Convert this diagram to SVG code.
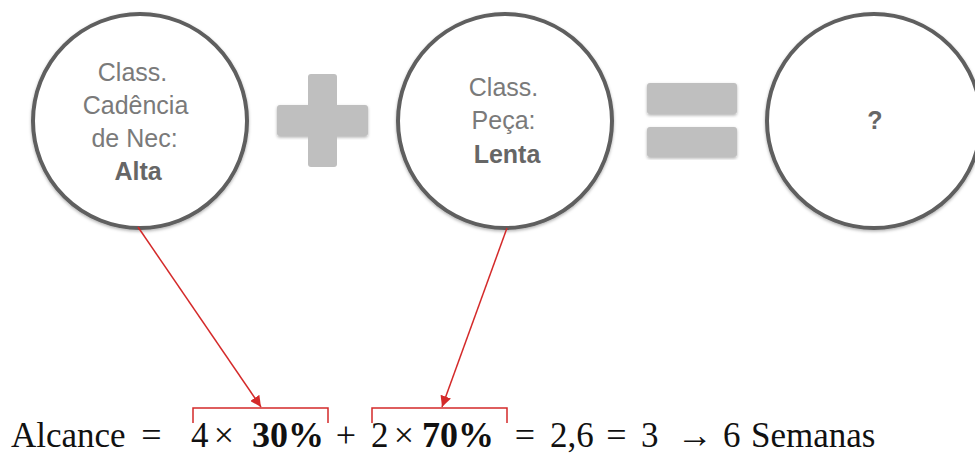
<svg xmlns="http://www.w3.org/2000/svg" width="975" height="454" viewBox="0 0 975 454">
  <defs>
    <filter id="sh" x="-10%" y="-10%" width="120%" height="120%">
      <feDropShadow dx="0" dy="1.5" stdDeviation="1.5" flood-color="#000" flood-opacity="0.3"/>
    </filter>
    <marker id="ah" viewBox="0 0 10 10" refX="10" refY="5" markerWidth="11" markerHeight="11" markerUnits="userSpaceOnUse" orient="auto">
      <path d="M0,0 L10,5 L0,10 z" fill="#d42a2a"/>
    </marker>
    <style>
      .node { fill: #ffffff; stroke: #5f5f5f; stroke-width: 4; }
      .sym { fill: #bfbfbf; }
      .lbl { font-family: "Liberation Sans", Arial, sans-serif; font-size: 25px; fill: #7a7a7a; text-anchor: middle; }
      .b { font-weight: bold; fill: #666666; }
      .conn { stroke: #d42a2a; stroke-width: 1.5; fill: none; }
      .eq { font-family: "Liberation Serif", "Times New Roman", serif; font-size: 35px; fill: #111111; }
      .bold { font-weight: bold; font-size: 36px; }
      .op { font-family: "Liberation Serif", "Times New Roman", serif; font-size: 36px; fill: #111111; text-anchor: middle; }
    </style>
  </defs>

  <g id="node-cadencia">
    <circle class="node" cx="140" cy="121" r="107" filter="url(#sh)"/>
    <text class="lbl">
      <tspan x="136" y="81">Class.</tspan>
      <tspan x="139" y="114">Cadência</tspan>
      <tspan x="138" y="147">de Nec:</tspan>
      <tspan x="138" y="180" class="b">Alta</tspan>
    </text>
  </g>

  <g id="plus">
    <rect class="sym" x="277" y="105" width="91" height="31" rx="3" filter="url(#sh)"/>
    <rect class="sym" x="308" y="74" width="29" height="93" rx="3"/>
  </g>

  <g id="node-peca">
    <circle class="node" cx="505" cy="121" r="107" filter="url(#sh)"/>
    <text class="lbl">
      <tspan x="507" y="96">Class.</tspan>
      <tspan x="507" y="129">Peça:</tspan>
      <tspan x="507" y="163" class="b">Lenta</tspan>
    </text>
  </g>

  <g id="equals">
    <rect class="sym" x="647" y="83" width="90" height="31" rx="3" filter="url(#sh)"/>
    <rect class="sym" x="647" y="127" width="90" height="30" rx="3" filter="url(#sh)"/>
  </g>

  <g id="node-result">
    <circle class="node" cx="874" cy="121" r="107" filter="url(#sh)"/>
    <text class="lbl b" x="875" y="129">?</text>
  </g>

  <g id="connectors">
    <line class="conn" x1="138" y1="227" x2="261" y2="407" marker-end="url(#ah)"/>
    <line class="conn" x1="507" y1="228" x2="442" y2="407" marker-end="url(#ah)"/>
    <path class="conn" d="M193,423 V408 H328 V423"/>
    <path class="conn" d="M372,423 V408 H507 V423"/>
  </g>

  <g id="equation">
    <text class="eq" x="11" y="447">Alcance</text>
    <text class="op" x="151.5" y="447">=</text>
    <text class="eq" x="191" y="447">4</text>
    <text class="op" x="224" y="447">×</text>
    <text class="eq bold" x="252" y="447">30%</text>
    <text class="op" x="346" y="447">+</text>
    <text class="eq" x="371" y="447">2</text>
    <text class="op" x="404" y="447">×</text>
    <text class="eq bold" x="422" y="447">70%</text>
    <text class="op" x="525" y="447">=</text>
    <text class="eq" x="550" y="447">2,6</text>
    <text class="op" x="616.5" y="447">=</text>
    <text class="eq" x="641" y="447">3</text>
    <text class="op" x="695" y="447">→</text>
    <text class="eq" x="723" y="447">6</text>
    <text class="eq" x="751" y="447">Semanas</text>
  </g>
</svg>
